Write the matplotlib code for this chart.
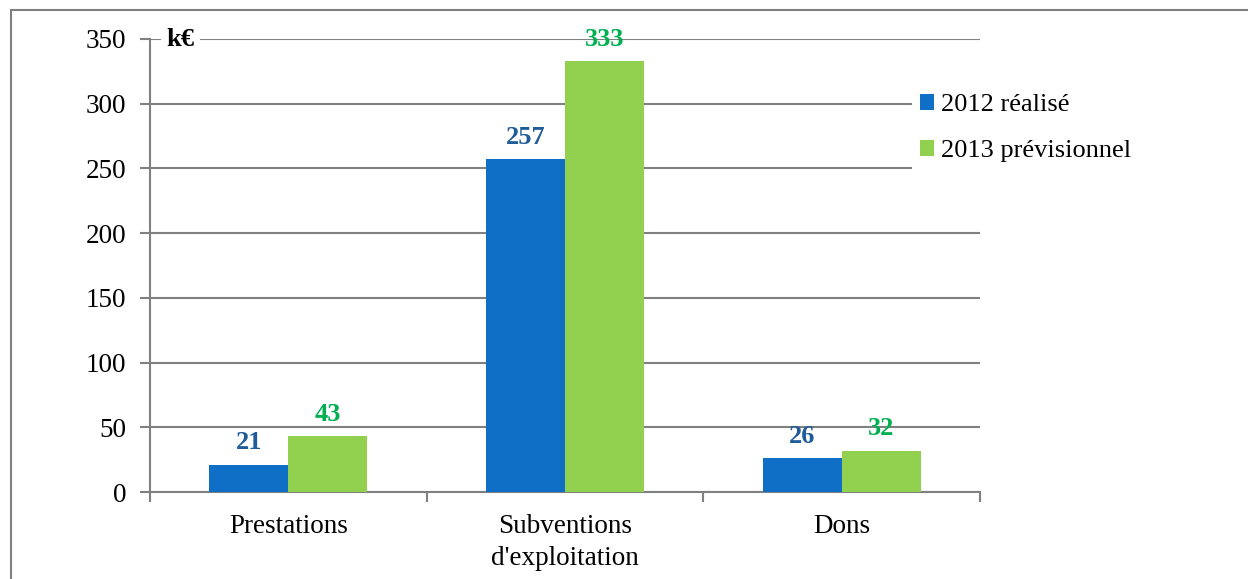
import matplotlib
matplotlib.use("Agg")
import matplotlib.pyplot as plt
import numpy as np

# values in k€
categories = ["Prestations", "Subventions\nd'exploitation", "Dons"]
realise_2012 = [21, 257, 26]
previsionnel_2013 = [43, 333, 32]
series_names = ["2012 réalisé", "2013 prévisionnel"]
y_ticks = [0, 50, 100, 150, 200, 250, 300, 350]

plt.rcParams['font.family'] = ['Liberation Serif', 'DejaVu Serif']

fig = plt.figure(figsize=(12.48, 5.79), dpi=100)
# outer frame of the chart
border = plt.Rectangle((11 / 1248, -0.1), 1.2, 1 - 10 / 579 + 0.1, transform=fig.transFigure,
                       fill=False, edgecolor="#7f7f7f", linewidth=1.5)
fig.patches.append(border)

ax = fig.add_axes([150 / 1248, 1 - 492 / 579, 830 / 1248, 453 / 579])

x = np.arange(len(categories))
w = 0.285
blue = "#0F6FC6"
green = "#92D050"
b1 = ax.bar(x - w / 2, realise_2012, w, color=blue, label=series_names[0], zorder=3)
b2 = ax.bar(x + w / 2, previsionnel_2013, w, color=green, label=series_names[1], zorder=3)

for rect, v in zip(b1, realise_2012):
    ax.text(rect.get_x() + rect.get_width() / 2, v + 8, str(v), ha="center", va="bottom",
            fontsize=19, fontweight="bold", color="#1F5C99", zorder=5)
for rect, v in zip(b2, previsionnel_2013):
    ax.text(rect.get_x() + rect.get_width() / 2, v + 8, str(v), ha="center", va="bottom",
            fontsize=19, fontweight="bold", color="#00B050", zorder=5)

ax.set_xlim(-0.5, len(categories) - 0.5)
ax.set_ylim(0, 350)
ax.set_yticks(y_ticks)
ax.set_yticklabels([str(t) for t in y_ticks], fontsize=19.5)
ax.yaxis.grid(True, color="#808080", linewidth=1.5, zorder=0)
ax.set_axisbelow(True)

# category labels centred, ticks on the boundaries
ax.set_xticks(np.arange(len(categories) + 1) - 0.5)
ax.set_xticklabels([])
ax.set_xticks(x, minor=True)
ax.set_xticklabels(categories, minor=True, fontsize=19.5)
ax.tick_params(axis="x", which="minor", length=0, pad=16)
ax.tick_params(axis="x", which="major", direction="out", length=7, width=1.5, color="#808080")
ax.tick_params(axis="y", direction="out", length=7, width=1.5, color="#808080", pad=10)
for lab in ax.get_xticklabels(minor=True):
    lab.set_linespacing(1.35)

for s in ["top", "right"]:
    ax.spines[s].set_visible(False)
for s in ["left", "bottom"]:
    ax.spines[s].set_color("#808080")
    ax.spines[s].set_linewidth(1.5)

ax.text(0.02, 350, "k€", transform=ax.get_yaxis_transform(), ha="left", va="center",
        fontsize=19, fontweight="bold", zorder=6,
        bbox=dict(facecolor="white", edgecolor="none", pad=4))

leg = ax.legend(loc="upper left", bbox_to_anchor=(912 / 1248, 1 - 86 / 579),
                bbox_transform=fig.transFigure, fontsize=19, frameon=True,
                handlelength=0.55, handleheight=0.55, handletextpad=0.25,
                labelspacing=0.9, borderpad=0.3, borderaxespad=0)
leg.get_frame().set_edgecolor("none")
leg.get_frame().set_facecolor("white")
leg.get_frame().set_alpha(1)
leg.get_frame().set_boxstyle("square", pad=0)

fig.savefig("out.png", dpi=100)
